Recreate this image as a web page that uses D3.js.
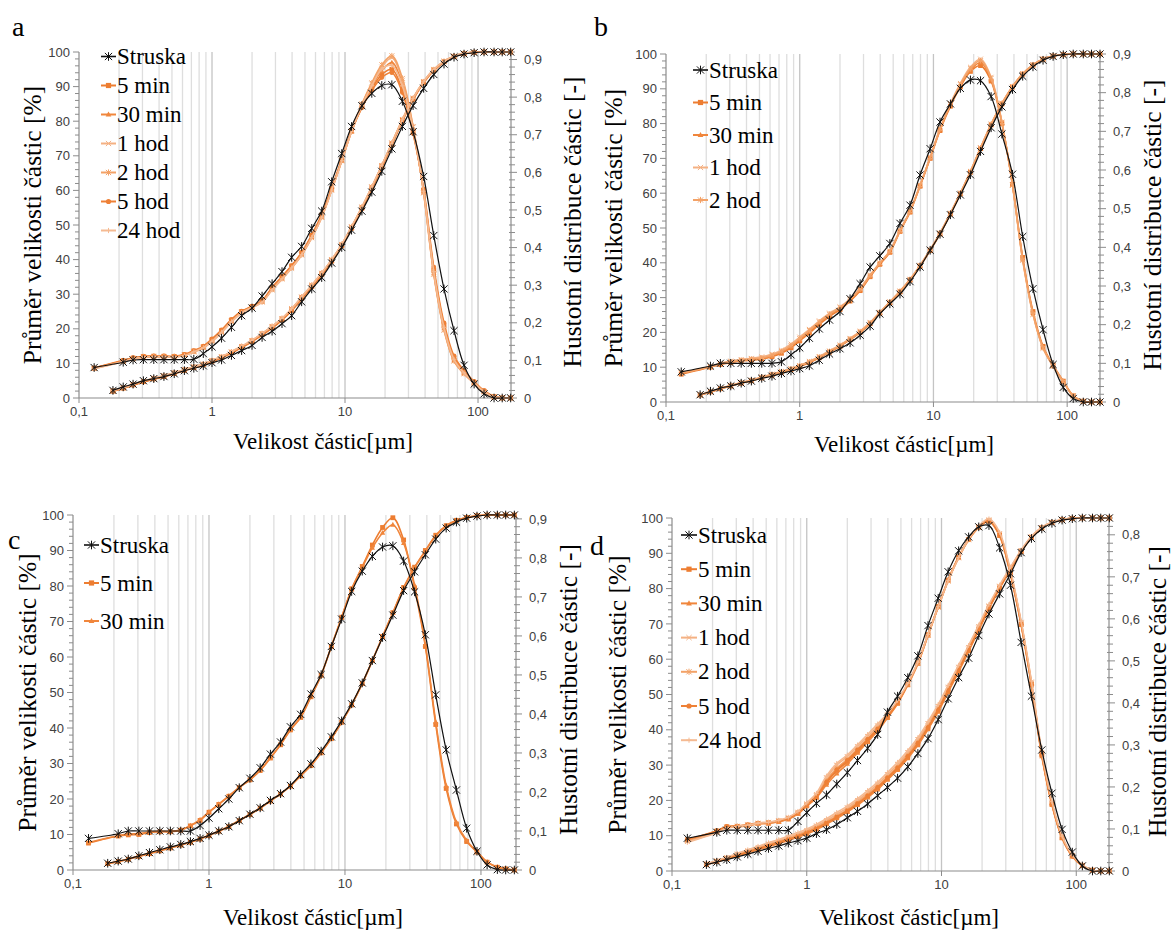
<!DOCTYPE html>
<html><head><meta charset="utf-8">
<script src="https://cdn.jsdelivr.net/npm/d3@7"></script>
<style>body{margin:0;background:#fff}svg{display:block}</style>
</head><body>
<svg id="chart" width="1171" height="931"></svg>
<script>
// ---- particle sizes [µm] (x values) ----
const sizes = [0.13, 0.18, 0.215, 0.255, 0.305, 0.365, 0.435, 0.52, 0.62, 0.73, 0.86, 1.0, 1.18, 1.4, 1.67, 2.0, 2.38, 2.83, 3.36, 3.97, 4.72, 5.62, 6.68, 7.94, 9.45, 11.2, 13.4, 15.9, 18.9, 22.5, 27, 32.5, 39, 46.5, 55.5, 66, 78.5, 93.5, 111, 132, 152, 176];
const xTickValues = [0.1, 1, 10, 100];
const xTickLabels = ["0,1", "1", "10", "100"];
const leftTicks = [0, 10, 20, 30, 40, 50, 60, 70, 80, 90, 100];

// ---- panel a ----
const aCumStruska = [null, 2.2, 3.2, 4.0, 5.0, 5.6, 6.2, 7.0, 7.9, 8.6, 9.3, 10.2, 11.0, 12.3, 13.7, 15.2, 17.5, 19.3, 21.5, 23.8, 27.8, 31.5, 34.8, 39.0, 43.5, 48.5, 54.0, 59.5, 65.5, 72.0, 78.5, 84.5, 89.5, 93.5, 96.5, 98.5, 99.4, 99.8, 100, 100, 100, 100];
const aCum5min = [null, 2.0, 2.9, 3.8, 4.8, 5.6, 6.3, 7.2, 8.1, 8.9, 9.7, 10.7, 11.8, 13.2, 14.8, 16.5, 18.5, 20.5, 22.8, 25.6, 29.0, 32.4, 35.9, 39.8, 44.2, 49.3, 55.0, 60.8, 67.0, 73.5, 80.3, 86.5, 91.3, 94.8, 97.2, 98.7, 99.5, 99.9, 100, 100, 100, 100];
const aCum30min = [null, 2.0, 2.8, 3.7, 4.7, 5.5, 6.2, 7.1, 8.0, 8.8, 9.6, 10.6, 11.7, 13.0, 14.6, 16.3, 18.3, 20.3, 22.6, 25.3, 28.7, 32.1, 35.6, 39.5, 44.0, 49.0, 54.8, 60.6, 66.8, 73.3, 80.1, 86.3, 91.2, 94.7, 97.1, 98.7, 99.5, 99.9, 100, 100, 100, 100];
const aCum1hod = [null, 2.1, 3.0, 3.9, 4.9, 5.7, 6.4, 7.3, 8.2, 9.0, 9.8, 10.8, 11.9, 13.3, 14.9, 16.6, 18.6, 20.6, 22.9, 25.7, 29.1, 32.5, 36.0, 39.9, 44.3, 49.4, 55.1, 61.0, 67.2, 73.7, 80.5, 86.7, 91.5, 95.0, 97.3, 98.8, 99.6, 99.9, 100, 100, 100, 100];
const aCum2hod = [null, 2.0, 2.9, 3.9, 4.8, 5.6, 6.4, 7.2, 8.1, 9.0, 9.8, 10.8, 11.9, 13.3, 14.9, 16.6, 18.6, 20.7, 23.0, 25.8, 29.2, 32.6, 36.1, 40.0, 44.4, 49.5, 55.2, 61.0, 67.2, 73.7, 80.5, 86.6, 91.4, 94.9, 97.3, 98.8, 99.6, 99.9, 100, 100, 100, 100];
const aCum5hod = [null, 1.9, 2.8, 3.7, 4.6, 5.4, 6.1, 7.0, 7.9, 8.7, 9.5, 10.5, 11.6, 13.0, 14.6, 16.3, 18.2, 20.2, 22.5, 25.2, 28.6, 32.0, 35.5, 39.4, 43.8, 48.9, 54.6, 60.4, 66.6, 73.1, 80.0, 86.2, 91.1, 94.6, 97.1, 98.6, 99.5, 99.9, 100, 100, 100, 100];
const aCum24hod = [null, 2.1, 3.0, 3.9, 4.9, 5.7, 6.4, 7.3, 8.2, 9.0, 9.9, 10.9, 12.0, 13.4, 15.0, 16.7, 18.7, 20.7, 23.0, 25.8, 29.2, 32.6, 36.1, 40.0, 44.4, 49.5, 55.2, 61.0, 67.2, 73.6, 80.4, 86.6, 91.4, 94.9, 97.3, 98.8, 99.6, 99.9, 100, 100, 100, 100];
const aDenStruska = [0.081, null, 0.095, 0.101, 0.102, 0.102, 0.102, 0.102, 0.102, 0.103, 0.118, 0.136, 0.159, 0.188, 0.219, 0.239, 0.271, 0.304, 0.336, 0.374, 0.403, 0.451, 0.497, 0.575, 0.650, 0.722, 0.777, 0.810, 0.831, 0.833, 0.789, 0.708, 0.589, 0.432, 0.290, 0.179, 0.087, 0.037, 0.011, 0, 0, 0];
const aDen5min = [0.079, null, 0.099, 0.106, 0.110, 0.111, 0.111, 0.110, 0.115, 0.125, 0.136, 0.155, 0.179, 0.207, 0.230, 0.243, 0.258, 0.293, 0.322, 0.351, 0.386, 0.432, 0.486, 0.557, 0.633, 0.711, 0.775, 0.823, 0.860, 0.874, 0.819, 0.708, 0.552, 0.340, 0.193, 0.106, 0.069, 0.041, 0.018, 0.003, 0, 0];
const aDen30min = [0.080, null, 0.098, 0.105, 0.109, 0.110, 0.110, 0.110, 0.114, 0.123, 0.134, 0.152, 0.176, 0.204, 0.228, 0.242, 0.256, 0.290, 0.318, 0.347, 0.382, 0.428, 0.482, 0.553, 0.630, 0.708, 0.775, 0.828, 0.870, 0.892, 0.835, 0.715, 0.548, 0.333, 0.185, 0.100, 0.066, 0.040, 0.017, 0.003, 0, 0];
const aDen1hod = [0.078, null, 0.097, 0.104, 0.108, 0.109, 0.109, 0.109, 0.113, 0.122, 0.133, 0.150, 0.174, 0.202, 0.226, 0.240, 0.255, 0.287, 0.316, 0.345, 0.380, 0.426, 0.480, 0.552, 0.630, 0.710, 0.780, 0.835, 0.880, 0.905, 0.845, 0.720, 0.545, 0.328, 0.180, 0.098, 0.064, 0.039, 0.016, 0.002, 0, 0];
const aDen2hod = [0.079, null, 0.098, 0.105, 0.109, 0.110, 0.110, 0.110, 0.114, 0.124, 0.135, 0.153, 0.177, 0.205, 0.228, 0.241, 0.256, 0.289, 0.318, 0.346, 0.381, 0.427, 0.481, 0.554, 0.632, 0.712, 0.782, 0.838, 0.886, 0.910, 0.850, 0.722, 0.546, 0.330, 0.182, 0.099, 0.065, 0.040, 0.017, 0.003, 0, 0];
const aDen5hod = [0.080, null, 0.100, 0.107, 0.111, 0.112, 0.112, 0.111, 0.116, 0.126, 0.138, 0.157, 0.181, 0.209, 0.231, 0.244, 0.259, 0.294, 0.323, 0.352, 0.387, 0.434, 0.488, 0.558, 0.634, 0.710, 0.772, 0.818, 0.852, 0.865, 0.812, 0.703, 0.556, 0.348, 0.200, 0.112, 0.073, 0.044, 0.020, 0.004, 0, 0];
const aDen24hod = [0.078, null, 0.097, 0.104, 0.109, 0.110, 0.110, 0.109, 0.113, 0.123, 0.134, 0.151, 0.175, 0.203, 0.227, 0.241, 0.255, 0.288, 0.317, 0.346, 0.381, 0.427, 0.481, 0.553, 0.631, 0.709, 0.777, 0.830, 0.874, 0.884, 0.830, 0.712, 0.550, 0.336, 0.188, 0.103, 0.067, 0.041, 0.017, 0.003, 0, 0];

// ---- panel b ----
const bCumStruska = [null, 2.1, 3.1, 4.0, 4.6, 5.4, 6.0, 6.8, 7.4, 8.2, 8.9, 9.6, 10.4, 12.0, 13.8, 15.3, 17.0, 19.2, 21.8, 25.3, 28.2, 31.0, 34.6, 38.8, 43.6, 48.2, 53.8, 59.5, 65.3, 72.0, 78.8, 84.8, 89.8, 93.6, 96.3, 98.2, 99.3, 99.8, 100, 100, 100, 100];
const bCum5min = [null, 2.0, 2.9, 3.8, 4.6, 5.4, 6.1, 6.9, 7.7, 8.5, 9.3, 10.2, 11.3, 12.7, 14.3, 16.0, 17.9, 20.0, 22.5, 25.5, 28.5, 31.6, 35.0, 39.0, 43.5, 48.3, 54.0, 59.8, 66.0, 72.8, 79.6, 85.6, 90.5, 94.2, 96.8, 98.5, 99.4, 99.8, 100, 100, 100, 100];
const bCum30min = [null, 2.0, 2.9, 3.8, 4.7, 5.5, 6.2, 7.0, 7.8, 8.6, 9.4, 10.3, 11.4, 12.8, 14.4, 16.1, 18.0, 20.1, 22.6, 25.6, 28.6, 31.7, 35.1, 39.1, 43.6, 48.4, 54.1, 59.9, 66.1, 72.9, 79.7, 85.7, 90.6, 94.3, 96.9, 98.5, 99.4, 99.8, 100, 100, 100, 100];
const bCum1hod = [null, 2.1, 3.0, 3.9, 4.8, 5.6, 6.3, 7.2, 8.0, 8.8, 9.6, 10.5, 11.7, 13.1, 14.7, 16.4, 18.3, 20.4, 22.9, 25.8, 28.8, 31.9, 35.3, 39.3, 43.8, 48.6, 54.3, 60.1, 66.3, 73.1, 79.9, 85.9, 90.7, 94.4, 96.9, 98.6, 99.4, 99.8, 100, 100, 100, 100];
const bCum2hod = [null, 2.0, 3.0, 3.9, 4.7, 5.5, 6.2, 7.1, 7.9, 8.7, 9.5, 10.4, 11.5, 12.9, 14.5, 16.2, 18.1, 20.2, 22.7, 25.7, 28.7, 31.8, 35.2, 39.2, 43.7, 48.5, 54.2, 60.0, 66.2, 73.0, 79.8, 85.8, 90.6, 94.3, 96.9, 98.5, 99.4, 99.8, 100, 100, 100, 100];
const bDenStruska = [0.078, null, 0.093, 0.100, 0.100, 0.100, 0.100, 0.100, 0.100, 0.104, 0.122, 0.140, 0.165, 0.189, 0.212, 0.234, 0.267, 0.306, 0.349, 0.378, 0.410, 0.462, 0.509, 0.587, 0.655, 0.724, 0.771, 0.811, 0.833, 0.831, 0.790, 0.693, 0.589, 0.428, 0.293, 0.187, 0.097, 0.038, 0.009, 0, 0, 0];
const bDen5min = [0.072, null, 0.090, 0.097, 0.102, 0.106, 0.108, 0.111, 0.117, 0.126, 0.140, 0.158, 0.178, 0.201, 0.221, 0.239, 0.261, 0.288, 0.324, 0.356, 0.387, 0.441, 0.491, 0.558, 0.630, 0.702, 0.765, 0.815, 0.855, 0.870, 0.830, 0.720, 0.563, 0.374, 0.234, 0.144, 0.095, 0.054, 0.016, 0.002, 0, 0];
const bDen30min = [0.074, null, 0.091, 0.098, 0.103, 0.107, 0.109, 0.112, 0.119, 0.128, 0.143, 0.161, 0.181, 0.204, 0.224, 0.241, 0.263, 0.290, 0.326, 0.358, 0.389, 0.443, 0.493, 0.560, 0.632, 0.705, 0.768, 0.818, 0.858, 0.878, 0.834, 0.722, 0.562, 0.370, 0.230, 0.141, 0.093, 0.053, 0.016, 0.002, 0, 0];
const bDen1hod = [0.076, null, 0.092, 0.100, 0.106, 0.110, 0.113, 0.117, 0.124, 0.134, 0.150, 0.168, 0.188, 0.210, 0.230, 0.246, 0.267, 0.294, 0.329, 0.360, 0.391, 0.444, 0.494, 0.561, 0.633, 0.707, 0.772, 0.824, 0.866, 0.887, 0.840, 0.724, 0.560, 0.366, 0.226, 0.139, 0.092, 0.052, 0.015, 0.002, 0, 0];
const bDen2hod = [0.075, null, 0.091, 0.099, 0.104, 0.108, 0.111, 0.114, 0.121, 0.131, 0.146, 0.164, 0.185, 0.207, 0.227, 0.244, 0.265, 0.292, 0.327, 0.359, 0.390, 0.443, 0.493, 0.560, 0.632, 0.706, 0.770, 0.821, 0.862, 0.883, 0.837, 0.723, 0.561, 0.368, 0.228, 0.140, 0.093, 0.053, 0.016, 0.002, 0, 0];

// ---- panel c ----
const cCumStruska = [null, 1.9, 2.5, 3.1, 4.0, 4.9, 5.7, 6.5, 7.2, 8.0, 8.9, 9.8, 11.0, 12.2, 13.9, 15.7, 17.5, 19.6, 21.5, 23.8, 26.9, 29.9, 33.5, 37.5, 42.0, 46.8, 52.7, 59.0, 65.5, 71.8, 78.7, 84.0, 88.8, 93.2, 96.3, 98.0, 99.1, 99.7, 100, 100, 100, 100];
const cCum5min = [null, 1.8, 2.4, 3.0, 3.8, 4.6, 5.4, 6.2, 7.0, 7.8, 8.7, 9.7, 10.9, 12.2, 13.9, 15.6, 17.4, 19.4, 21.4, 23.6, 26.5, 29.4, 33.0, 37.0, 41.6, 46.5, 52.5, 59.0, 65.8, 72.5, 79.6, 85.3, 90.0, 94.3, 97.0, 98.5, 99.3, 99.8, 100, 100, 100, 100];
const cCum30min = [null, 1.8, 2.4, 3.1, 3.9, 4.7, 5.5, 6.3, 7.1, 7.9, 8.8, 9.8, 11.0, 12.3, 14.0, 15.7, 17.5, 19.5, 21.5, 23.7, 26.6, 29.5, 33.1, 37.1, 41.7, 46.6, 52.5, 59.0, 65.7, 72.4, 79.4, 85.1, 89.8, 94.1, 96.9, 98.4, 99.3, 99.8, 100, 100, 100, 100];
const cDenStruska = [0.081, null, 0.093, 0.100, 0.100, 0.100, 0.100, 0.100, 0.100, 0.100, 0.114, 0.133, 0.157, 0.182, 0.211, 0.235, 0.262, 0.297, 0.328, 0.367, 0.399, 0.451, 0.501, 0.573, 0.643, 0.714, 0.766, 0.804, 0.828, 0.831, 0.792, 0.713, 0.603, 0.449, 0.308, 0.205, 0.107, 0.048, 0.013, 0.001, 0, 0];
const cDen5min = [0.069, null, 0.087, 0.090, 0.091, 0.096, 0.098, 0.098, 0.102, 0.113, 0.127, 0.148, 0.168, 0.189, 0.211, 0.231, 0.255, 0.287, 0.321, 0.359, 0.391, 0.444, 0.499, 0.573, 0.648, 0.721, 0.778, 0.833, 0.878, 0.903, 0.846, 0.723, 0.573, 0.373, 0.209, 0.118, 0.073, 0.046, 0.020, 0.007, 0.003, 0];
const cDen30min = [0.071, null, 0.088, 0.092, 0.093, 0.097, 0.099, 0.099, 0.103, 0.114, 0.129, 0.149, 0.169, 0.190, 0.212, 0.232, 0.256, 0.288, 0.322, 0.360, 0.392, 0.445, 0.500, 0.573, 0.647, 0.719, 0.775, 0.826, 0.864, 0.885, 0.838, 0.730, 0.578, 0.380, 0.216, 0.122, 0.076, 0.047, 0.021, 0.008, 0.003, 0];

// ---- panel d ----
const dCumStruska = [null, 1.8, 2.5, 3.2, 4.0, 4.8, 5.6, 6.4, 7.1, 7.9, 8.6, 9.3, 10.6, 11.7, 13.2, 15.1, 16.9, 19.0, 21.4, 23.7, 26.3, 29.5, 33.3, 37.5, 42.9, 48.8, 54.8, 60.3, 66.7, 72.8, 78.5, 84.2, 90.2, 94.2, 96.9, 98.5, 99.4, 99.8, 100, 100, 100, 100];
const dCum5min = [null, 1.9, 2.7, 3.5, 4.4, 5.3, 6.2, 7.1, 8.0, 8.9, 9.8, 10.8, 12.0, 13.5, 15.2, 17.0, 19.0, 21.2, 23.5, 26.2, 29.0, 32.3, 36.0, 40.5, 45.5, 51.0, 56.8, 62.5, 68.5, 74.5, 80.2, 85.5, 90.5, 94.5, 97.2, 98.7, 99.5, 99.9, 100, 100, 100, 100];
const dCum30min = [null, 1.8, 2.6, 3.4, 4.3, 5.2, 6.0, 6.9, 7.8, 8.7, 9.6, 10.5, 11.7, 13.2, 14.9, 16.7, 18.7, 20.8, 23.1, 25.8, 28.6, 31.9, 35.6, 40.1, 45.1, 50.6, 56.4, 62.2, 68.2, 74.2, 80.0, 85.3, 90.4, 94.4, 97.1, 98.7, 99.5, 99.9, 100, 100, 100, 100];
const dCum1hod = [null, 2.0, 2.9, 3.8, 4.8, 5.8, 6.7, 7.7, 8.6, 9.5, 10.5, 11.5, 12.8, 14.3, 16.1, 17.9, 20.0, 22.2, 24.6, 27.3, 30.2, 33.5, 37.2, 41.7, 46.6, 52.0, 57.7, 63.3, 69.2, 75.1, 80.7, 85.9, 90.8, 94.7, 97.3, 98.8, 99.6, 99.9, 100, 100, 100, 100];
const dCum2hod = [null, 1.9, 2.8, 3.7, 4.6, 5.5, 6.4, 7.4, 8.3, 9.2, 10.1, 11.1, 12.4, 13.9, 15.6, 17.4, 19.5, 21.7, 24.0, 26.7, 29.6, 32.9, 36.6, 41.1, 46.0, 51.5, 57.2, 62.9, 68.8, 74.8, 80.5, 85.7, 90.7, 94.6, 97.3, 98.8, 99.5, 99.9, 100, 100, 100, 100];
const dCum5hod = [null, 1.9, 2.7, 3.6, 4.5, 5.4, 6.3, 7.2, 8.1, 9.0, 9.9, 10.9, 12.1, 13.6, 15.3, 17.1, 19.1, 21.3, 23.7, 26.4, 29.2, 32.5, 36.2, 40.7, 45.7, 51.2, 57.0, 62.7, 68.6, 74.6, 80.3, 85.6, 90.6, 94.5, 97.2, 98.7, 99.5, 99.9, 100, 100, 100, 100];
const dCum24hod = [null, 2.0, 3.0, 3.9, 5.0, 6.0, 7.0, 8.0, 8.9, 9.9, 10.9, 11.9, 13.2, 14.8, 16.6, 18.4, 20.5, 22.8, 25.2, 27.9, 30.8, 34.1, 37.8, 42.3, 47.2, 52.6, 58.3, 63.9, 69.7, 75.5, 81.0, 86.1, 90.9, 94.8, 97.4, 98.8, 99.6, 99.9, 100, 100, 100, 100];
const dDenStruska = [0.078, null, 0.092, 0.097, 0.097, 0.097, 0.097, 0.097, 0.097, 0.097, 0.118, 0.139, 0.161, 0.181, 0.207, 0.234, 0.263, 0.292, 0.325, 0.378, 0.416, 0.460, 0.512, 0.584, 0.649, 0.712, 0.762, 0.795, 0.819, 0.822, 0.769, 0.680, 0.544, 0.416, 0.288, 0.185, 0.099, 0.045, 0.012, 0, 0, 0];
const dDen5min = [0.074, null, 0.095, 0.105, 0.106, 0.109, 0.113, 0.114, 0.118, 0.124, 0.137, 0.156, 0.176, 0.210, 0.238, 0.260, 0.285, 0.310, 0.336, 0.366, 0.400, 0.444, 0.495, 0.562, 0.629, 0.692, 0.747, 0.789, 0.818, 0.833, 0.800, 0.708, 0.588, 0.445, 0.277, 0.160, 0.080, 0.036, 0.013, 0.002, 0, 0];
const dDen30min = [0.072, null, 0.093, 0.103, 0.105, 0.108, 0.112, 0.113, 0.117, 0.123, 0.136, 0.154, 0.174, 0.205, 0.232, 0.255, 0.281, 0.307, 0.333, 0.364, 0.398, 0.442, 0.493, 0.560, 0.628, 0.691, 0.746, 0.788, 0.817, 0.832, 0.797, 0.705, 0.585, 0.441, 0.273, 0.157, 0.078, 0.035, 0.012, 0.002, 0, 0];
const dDen1hod = [0.070, null, 0.092, 0.104, 0.107, 0.110, 0.114, 0.116, 0.120, 0.127, 0.140, 0.160, 0.182, 0.222, 0.252, 0.272, 0.296, 0.320, 0.345, 0.372, 0.404, 0.446, 0.496, 0.562, 0.628, 0.690, 0.745, 0.788, 0.819, 0.836, 0.803, 0.712, 0.592, 0.450, 0.282, 0.163, 0.082, 0.037, 0.014, 0.002, 0, 0];
const dDen2hod = [0.073, null, 0.094, 0.104, 0.106, 0.109, 0.113, 0.115, 0.119, 0.125, 0.138, 0.158, 0.179, 0.216, 0.245, 0.266, 0.290, 0.315, 0.340, 0.369, 0.402, 0.445, 0.495, 0.561, 0.628, 0.691, 0.746, 0.789, 0.818, 0.834, 0.801, 0.710, 0.590, 0.447, 0.279, 0.161, 0.081, 0.036, 0.013, 0.002, 0, 0];
const dDen5hod = [0.075, null, 0.096, 0.106, 0.107, 0.110, 0.114, 0.115, 0.119, 0.125, 0.138, 0.157, 0.177, 0.212, 0.241, 0.263, 0.288, 0.313, 0.338, 0.367, 0.401, 0.445, 0.496, 0.563, 0.630, 0.693, 0.748, 0.790, 0.819, 0.833, 0.799, 0.707, 0.587, 0.444, 0.276, 0.159, 0.079, 0.035, 0.012, 0.002, 0, 0];
const dDen24hod = [0.068, null, 0.091, 0.102, 0.106, 0.109, 0.114, 0.116, 0.121, 0.128, 0.142, 0.162, 0.185, 0.226, 0.256, 0.276, 0.300, 0.325, 0.350, 0.375, 0.406, 0.447, 0.497, 0.563, 0.629, 0.691, 0.746, 0.790, 0.821, 0.838, 0.806, 0.715, 0.594, 0.452, 0.284, 0.165, 0.083, 0.038, 0.014, 0.002, 0, 0];

const seriesNames = ["Struska", "5 min", "30 min", "1 hod", "2 hod", "5 hod", "24 hod"];

// ---- styles (not data) ----
const styleOf = {
  "Struska": {color: "#111111", marker: "star", width: 1.2},
  "5 min":  {color: "#ED7D31", marker: "square", width: 1.6},
  "30 min": {color: "#F0863C", marker: "triangle", width: 1.6},
  "1 hod":  {color: "#F4B183", marker: "cross", width: 1.6},
  "2 hod":  {color: "#F3A267", marker: "star", width: 1.6},
  "5 hod":  {color: "#EE8036", marker: "circle", width: 1.6},
  "24 hod": {color: "#F5BA92", marker: "plus", width: 1.6}
};

const panels = [
  {label: "a", lab: [12, 36], L: 79, T: 52, R: 511, B: 398, xmax: 177, rmax: 0.92,
   cum: [aCumStruska, aCum5min, aCum30min, aCum1hod, aCum2hod, aCum5hod, aCum24hod],
   den: [aDenStruska, aDen5min, aDen30min, aDen1hod, aDen2hod, aDen5hod, aDen24hod],
   n: 7, leg: [101, 116, 56.5, 29], ytx: 32, rtx: 572, xtx: 323, xty: 449},
  {label: "b", lab: [594, 36], L: 666, T: 54, R: 1100, B: 402, xmax: 176, rmax: 0.9,
   cum: [bCumStruska, bCum5min, bCum30min, bCum1hod, bCum2hod],
   den: [bDenStruska, bDen5min, bDen30min, bDen1hod, bDen2hod],
   n: 5, leg: [693, 708, 70, 32.5], ytx: 613, rtx: 1152, xtx: 904, xty: 452},
  {label: "c", lab: [8, 549], L: 73, T: 515, R: 516, B: 870, xmax: 181, rmax: 0.91,
   cum: [cCumStruska, cCum5min, cCum30min],
   den: [cDenStruska, cDen5min, cDen30min],
   n: 3, leg: [84, 99, 545, 38], ytx: 27, rtx: 568, xtx: 313, xty: 925},
  {label: "d", lab: [590, 555], L: 672, T: 518, R: 1109, B: 871, xmax: 175, rmax: 0.84,
   cum: [dCumStruska, dCum5min, dCum30min, dCum1hod, dCum2hod, dCum5hod, dCum24hod],
   den: [dDenStruska, dDen5min, dDen30min, dDen1hod, dDen2hod, dDen5hod, dDen24hod],
   n: 7, leg: [681, 697, 535, 34.2], ytx: 617, rtx: 1157, xtx: 909, xty: 925}
];

const SERIF = '"Liberation Serif"';
const SANS = '"Liberation Sans"';
const svg = d3.select("#chart");
const fmt = v => v === 0 ? "0" : d3.format(".1f")(v).replace(".", ",");

function marker(g, type, x, y, color, s) {
  const p = d3.path();
  if (type === "square") { g.append("rect").attr("x", x - s).attr("y", y - s).attr("width", 2*s).attr("height", 2*s).attr("fill", color); return; }
  if (type === "circle") { g.append("circle").attr("cx", x).attr("cy", y).attr("r", s).attr("fill", color); return; }
  if (type === "triangle") { g.append("path").attr("d", `M${x},${y - s*1.2}L${x + s*1.1},${y + s*0.8}L${x - s*1.1},${y + s*0.8}Z`).attr("fill", color); return; }
  if (type === "cross" || type === "star") {
    p.moveTo(x - s, y - s); p.lineTo(x + s, y + s); p.moveTo(x - s, y + s); p.lineTo(x + s, y - s);
    if (type === "star") { p.moveTo(x, y - s * 1.2); p.lineTo(x, y + s * 1.2); }
  }
  if (type === "plus") { p.moveTo(x - s, y); p.lineTo(x + s, y); p.moveTo(x, y - s); p.lineTo(x, y + s); }
  g.append("path").attr("d", p.toString()).attr("stroke", color).attr("stroke-width", 1).attr("fill", "none");
}

panels.forEach(P => {
  const g = svg.append("g");
  const x = d3.scaleLog().domain([0.1, P.xmax]).range([P.L, P.R]);
  const yL = d3.scaleLinear().domain([0, 100]).range([P.B, P.T]);
  const yR = d3.scaleLinear().domain([0, P.rmax]).range([P.B, P.T]);

  const grid = [];
  [0.1, 1, 10, 100].forEach(dec => { for (let m = 1; m <= 9; m++) { const v = +(m * dec).toPrecision(3); if (v > 0.1 && v < P.xmax) grid.push(v); } });
  g.selectAll(null).data(grid).enter().append("line")
    .attr("x1", d => x(d)).attr("x2", d => x(d)).attr("y1", P.T).attr("y2", P.B)
    .attr("stroke", d => (d === 1 || d === 10 || d === 100) ? "#c4c4c4" : "#dedede").attr("stroke-width", 1.3);

  g.append("line").attr("x1", P.L).attr("x2", P.R).attr("y1", P.B).attr("y2", P.B).attr("stroke", "#8c8c8c").attr("stroke-width", 1.2);
  g.append("line").attr("x1", P.L).attr("x2", P.L).attr("y1", P.T).attr("y2", P.B).attr("stroke", "#8c8c8c").attr("stroke-width", 1.2);
  g.append("line").attr("x1", P.R).attr("x2", P.R).attr("y1", P.T).attr("y2", P.B).attr("stroke", "#8c8c8c").attr("stroke-width", 1.2);

  const lt = d3.range(0, 101, 2);
  g.selectAll(null).data(lt).enter().append("line")
    .attr("x1", d => d % 10 === 0 ? P.L - 6 : P.L - 4).attr("x2", P.L)
    .attr("y1", d => yL(d)).attr("y2", d => yL(d)).attr("stroke", "#8c8c8c").attr("stroke-width", 1);
  g.selectAll(null).data(leftTicks).enter().append("text").style("font-family", SANS)
    .attr("x", P.L - 9).attr("y", d => yL(d)).attr("dy", "0.36em").attr("text-anchor", "end")
    .attr("font-size", 13).attr("fill", "#404040").text(d => d);

  const nMinor = Math.floor(P.rmax / 0.02 + 1e-6);
  const rt = d3.range(0, nMinor + 1).map(i => i * 0.02);
  g.selectAll(null).data(rt).enter().append("line")
    .attr("x1", P.R - 2).attr("x2", (d, i) => i % 5 === 0 ? P.R + 6 : P.R + 4)
    .attr("y1", d => yR(d)).attr("y2", d => yR(d)).attr("stroke", "#8c8c8c").attr("stroke-width", 1);
  const rLabels = d3.range(0, Math.floor(P.rmax * 10 + 1e-6) + 1).map(i => i / 10);
  g.selectAll(null).data(rLabels).enter().append("text").style("font-family", SANS)
    .attr("x", P.R + 13).attr("y", d => yR(d)).attr("dy", "0.36em").attr("text-anchor", "start")
    .attr("font-size", 13).attr("fill", "#404040").text(fmt);

  g.selectAll(null).data(xTickValues).enter().append("line")
    .attr("x1", d => x(d)).attr("x2", d => x(d)).attr("y1", P.B).attr("y2", P.B + 5).attr("stroke", "#8c8c8c");
  g.selectAll(null).data(xTickValues).enter().append("text").style("font-family", SANS)
    .attr("x", d => x(d)).attr("y", P.B + 18).attr("text-anchor", "middle")
    .attr("font-size", 13).attr("fill", "#404040").text((d, i) => xTickLabels[i]);

  const line = d3.line().curve(d3.curveCatmullRom.alpha(0.5));
  const order = d3.range(1, P.n).concat([0]);
  order.forEach(i => {
    const st = styleOf[seriesNames[i]];
    const ms = i === 0 ? 3.6 : 2.4;
    const cumPts = sizes.map((s, k) => [s, P.cum[i][k]]).filter(d => d[1] !== null).map(d => [x(d[0]), yL(d[1])]);
    const denPts = sizes.map((s, k) => [s, P.den[i][k]]).filter(d => d[1] !== null).map(d => [x(d[0]), yR(d[1])]);
    [cumPts, denPts].forEach(pts => {
      g.append("path").attr("d", line(pts)).attr("fill", "none").attr("stroke", st.color).attr("stroke-width", st.width);
      pts.forEach(p => marker(g, st.marker, p[0], p[1], st.color, ms));
    });
  });

  const [lx0, lx1, ly0, ldy] = P.leg;
  for (let i = 0; i < P.n; i++) {
    const st = styleOf[seriesNames[i]];
    const yy = ly0 + i * ldy;
    g.append("line").attr("x1", lx0).attr("x2", lx1).attr("y1", yy).attr("y2", yy).attr("stroke", st.color).attr("stroke-width", st.width + 0.4);
    marker(g, st.marker, (lx0 + lx1) / 2, yy, st.color, i === 0 ? 3.6 : 2.6);
    g.append("text").style("font-family", SERIF).attr("x", lx1 + 1).attr("y", yy).attr("dy", "0.33em")
      .attr("font-size", 23).attr("fill", "#000").text(seriesNames[i]);
  }

  const midY = (P.T + P.B) / 2;
  g.append("text").style("font-family", SERIF).attr("transform", `translate(${P.ytx},${midY}) rotate(-90)`).attr("text-anchor", "middle").attr("dy", "0.35em")
    .attr("font-size", 25.5).attr("fill", "#000").text("Průměr velikosti částic [%]");
  g.append("text").style("font-family", SERIF).attr("transform", `translate(${P.rtx},${midY - 3}) rotate(-90)`).attr("text-anchor", "middle").attr("dy", "0.35em")
    .attr("font-size", 25.5).attr("fill", "#000").text("Hustotní distribuce částic [-]");
  g.append("text").style("font-family", SERIF).attr("x", P.xtx).attr("y", P.xty).attr("text-anchor", "middle")
    .attr("font-size", 23).attr("fill", "#000").text("Velikost částic[µm]");
  g.append("text").style("font-family", SERIF).attr("x", P.lab[0]).attr("y", P.lab[1])
    .attr("font-size", 28).attr("fill", "#000").text(P.label);
});
</script>
</body></html>
